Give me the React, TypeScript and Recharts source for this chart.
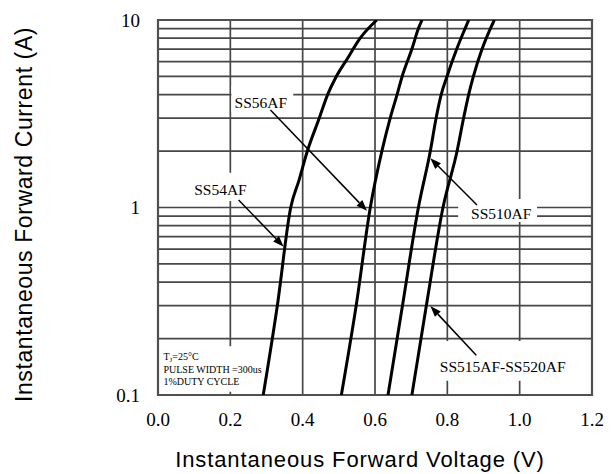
import { LineChart, Line, XAxis, YAxis, ReferenceArea, ReferenceLine, ReferenceDot } from "recharts";

// forward voltage (V) vs forward current (A)
const ss54V = [0.291, 0.330, 0.367, 0.390, 0.413, 0.446, 0.469, 0.493, 0.523, 0.559, 0.605];
const ss54I = [0.1, 0.3, 1, 1.4, 2, 3, 4, 5, 6.2, 8, 10];

const ss56V = [0.507, 0.548, 0.587, 0.619, 0.642, 0.661, 0.675, 0.702, 0.720, 0.730];
const ss56I = [0.1, 0.3, 1, 2, 3, 4, 5, 7, 9, 10];

const ss510V = [0.636, 0.676, 0.720, 0.753, 0.769, 0.783, 0.799, 0.826, 0.849, 0.859];
const ss510I = [0.1, 0.3, 1, 2, 3, 4, 5, 7, 9, 10];

const ss515V = [0.702, 0.742, 0.788, 0.827, 0.845, 0.859, 0.872, 0.896, 0.919, 0.930];
const ss515I = [0.1, 0.3, 1, 2, 3, 4, 5, 7, 9, 10];

const xTicks = [0, 0.2, 0.4, 0.6, 0.8, 1.0, 1.2];
const yTicks = [0.1, 1, 10];
const yGrid = [0.2, 0.3, 0.4, 0.5, 0.6, 0.7, 0.8, 0.9, 1, 2, 3, 4, 5, 6, 7, 8, 9];
const xGrid = [0.2, 0.4, 0.6, 0.8, 1.0];

// curve labels: text, label centre, white box behind it, arrow start -> arrow tip
const labels = [
  { text: "SS56AF", at: [0.2845, 3.61], box: [0.203, 0.374, 3.23, 4.45], from: [0.311, 3.31], to: [0.578, 0.96] },
  { text: "SS54AF", at: [0.1727, 1.24], box: [0.09, 0.256, 1.083, 1.53], from: [0.223, 1.097], to: [0.3475, 0.618] },
  { text: "SS510AF", at: [0.949, 0.929], box: [0.83, 1.048, 0.837, 1.11], from: [0.882, 1.03], to: [0.753, 1.83] },
  { text: "SS515AF-SS520AF", at: [0.953, 0.142], box: [0.758, 1.148, 0.119, 0.194], from: [0.88, 0.163], to: [0.753, 0.298] },
];

const noteAt = [0.015, 0.153];
const noteBox = [0.004, 0.289, 0.104, 0.182];

const toPoints = (vs: number[], is: number[]) => vs.map((v, k) => ({ v, i: is[k] }));
const series = [
  { name: "SS54AF", data: toPoints(ss54V, ss54I) },
  { name: "SS56AF", data: toPoints(ss56V, ss56I) },
  { name: "SS510AF", data: toPoints(ss510V, ss510I) },
  { name: "SS515AF-SS520AF", data: toPoints(ss515V, ss515I) },
];

const SERIF = '"Liberation Serif", "Times New Roman", serif';
const SANS = '"Liberation Sans", Arial, sans-serif';
const GRID = "#474747";

function Arrow(p: any) {
  const { x1, y1, x2, y2 } = p;
  const a = Math.atan2(y2 - y1, x2 - x1);
  const len = 11;
  const half = 4;
  const bx = x2 - len * Math.cos(a);
  const by = y2 - len * Math.sin(a);
  const pts = `${x2},${y2} ${bx - half * Math.sin(a)},${by + half * Math.cos(a)} ${bx + half * Math.sin(a)},${by - half * Math.cos(a)}`;
  return (
    <g>
      <line x1={x1} y1={y1} x2={bx} y2={by} stroke="#000" strokeWidth={1.5} />
      <polygon points={pts} fill="#000" />
    </g>
  );
}

export default function App() {
  return (
    <div style={{ position: "absolute", left: 0, top: 0, background: "#fff" }}>
      <LineChart width={613} height={474} margin={{ top: 20, right: 21, bottom: 0, left: 0 }}>
        <XAxis
          type="number"
          dataKey="v"
          domain={[0, 1.2]}
          ticks={xTicks}
          allowDataOverflow
          height={79}
          tickSize={0}
          tickMargin={18}
          axisLine={false}
          tickLine={false}
          tickFormatter={(v) => Number(v).toFixed(1)}
          tick={{ fill: "#000", fontSize: 19, fontFamily: SERIF }}
          label={{
            content: ({ viewBox }: any) => (
              <text
                x={viewBox.x + viewBox.width / 2 - 15}
                y={viewBox.y + 72}
                textAnchor="middle"
                fontFamily={SANS}
                fontSize={22}
                letterSpacing={0.9}
                fill="#000"
              >
                Instantaneous Forward Voltage (V)
              </text>
            ),
          }}
        />
        <YAxis
          type="number"
          dataKey="i"
          scale="log"
          domain={[0.1, 10]}
          ticks={yTicks}
          allowDataOverflow
          width={158}
          tickSize={0}
          tickMargin={18}
          axisLine={false}
          tickLine={false}
          tickFormatter={(v) => String(v)}
          tick={{ fill: "#000", fontSize: 19, fontFamily: SERIF }}
          label={{
            content: ({ viewBox }: any) => {
              const cx = viewBox.x + 24;
              const cy = viewBox.y + viewBox.height / 2 + 7;
              return (
                <text
                  x={cx}
                  y={cy}
                  transform={`rotate(-90, ${cx}, ${cy})`}
                  textAnchor="middle"
                  dominantBaseline="central"
                  fontFamily={SANS}
                  fontSize={23}
                  letterSpacing={0.6}
                  fill="#000"
                >
                  Instantaneous Forward Current (A)
                </text>
              );
            },
          }}
        />
        {yGrid.map((v) => (
          <ReferenceLine key={"h" + v} y={v} stroke={GRID} strokeWidth={1.7} zIndex={-100} />
        ))}
        {xGrid.map((v) => (
          <ReferenceLine key={"v" + v} x={v} stroke={GRID} strokeWidth={1.7} zIndex={-100} />
        ))}
        {labels.map((l) => (
          <ReferenceArea
            key={"box" + l.text}
            x1={l.box[0]}
            x2={l.box[1]}
            y1={l.box[2]}
            y2={l.box[3]}
            fill="#fff"
            fillOpacity={1}
            stroke="none"
            zIndex={-50}
          />
        ))}
        <ReferenceArea
          x1={noteBox[0]}
          x2={noteBox[1]}
          y1={noteBox[2]}
          y2={noteBox[3]}
          fill="#fff"
          fillOpacity={1}
          stroke="none"
          zIndex={-50}
        />
        <ReferenceArea x1={0} x2={1.2} y1={0.1} y2={10} fill="none" stroke="#505050" strokeWidth={2.2} zIndex={-40} />
        {series.map((s) => (
          <Line
            key={s.name}
            data={s.data}
            dataKey="i"
            name={s.name}
            type="monotone"
            stroke="#000"
            strokeWidth={3}
            dot={false}
            isAnimationActive={false}
          />
        ))}
        {labels.map((l) => (
          <ReferenceLine
            key={"arrow" + l.text}
            segment={[
              { x: l.from[0], y: l.from[1] },
              { x: l.to[0], y: l.to[1] },
            ]}
            shape={Arrow}
          />
        ))}
        {labels.map((l) => (
          <ReferenceDot
            key={"txt" + l.text}
            x={l.at[0]}
            y={l.at[1]}
            r={0}
            shape={(p: any) => (
              <text x={p.cx} y={p.cy + 5.5} textAnchor="middle" fontFamily={SERIF} fontSize={15.5} fill="#000">
                {l.text}
              </text>
            )}
          />
        ))}
        <ReferenceDot
          x={noteAt[0]}
          y={noteAt[1]}
          r={0}
          shape={(p: any) => (
            <text x={p.cx} y={p.cy} fontFamily={SERIF} fontSize={10} fill="#000">
              <tspan>T</tspan>
              <tspan fontSize={7} dy={2}>J</tspan>
              <tspan dy={-2}>=25°C</tspan>
              <tspan x={p.cx} dy={13}>PULSE WIDTH =300us</tspan>
              <tspan x={p.cx} dy={12}>1%DUTY CYCLE</tspan>
            </text>
          )}
        />
      </LineChart>
    </div>
  );
}
